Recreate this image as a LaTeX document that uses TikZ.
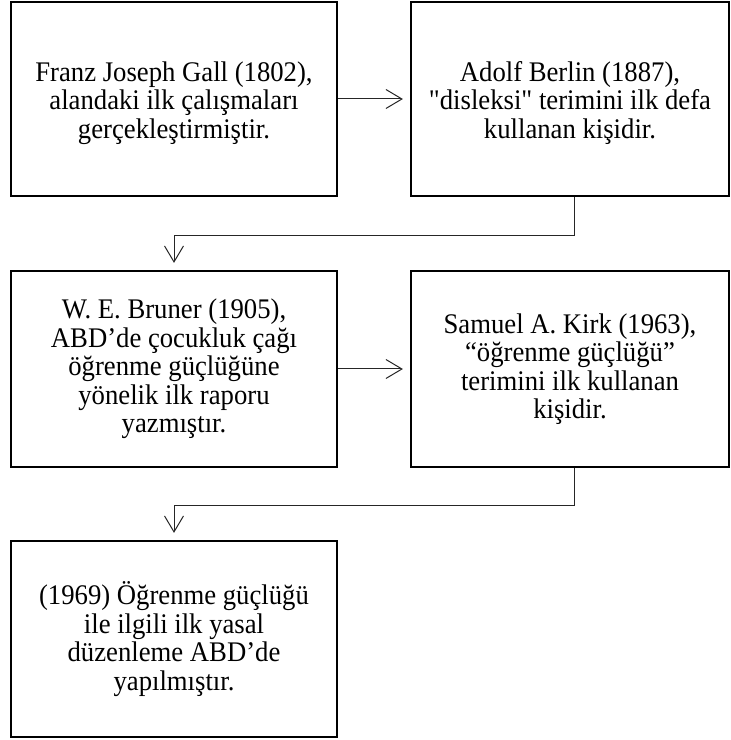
\documentclass[tikz,border=0pt]{standalone}
\usepackage{fontspec}
\setmainfont{Liberation Serif}[Ligatures=TeXOff, FakeStretch=0.94]
\usetikzlibrary{arrows.meta}
\begin{document}
\begin{tikzpicture}[x=1pt,y=1pt,
  box/.style={draw=black, line width=2.2pt, inner sep=0pt},
  wide/.style={minimum width=326pt},
  narrow/.style={minimum width=318pt},
  txt/.style={align=center, inner sep=0pt,
    font=\fontsize{28.4}{28.4}\selectfont},
  link/.style={draw=black!85, line width=1pt,
    -{Straight Barb[length=16pt,width=19pt,line width=1pt]}, shorten >=7pt}
]
\useasboundingbox (0,0) rectangle (731,740);

% boxes
\node[box, wide,   minimum height=194pt] (b1) at (174,641) {};
\node[box, narrow, minimum height=194pt] (b2) at (570,641) {};
\node[box, wide,   minimum height=196pt] (b3) at (174,371) {};
\node[box, narrow, minimum height=196pt] (b4) at (570,371) {};
\node[box, wide,   minimum height=196pt] (b5) at (174,101) {};

% texts
\node[txt] (t1) at ([yshift=-4pt]b1.center)
  {Franz Joseph Gall (1802),\\alandaki ilk çalışmaları\\gerçekleştirmiştir.};
\node[txt] (t2) at ([yshift=-4pt]b2.center)
  {Adolf Berlin (1887),\\"disleksi" terimini ilk defa\\kullanan kişidir.};
\node[txt] (t3) at (b3.center)
  {W. E. Bruner (1905),\\ABD’de çocukluk çağı\\öğrenme güçlüğüne\\yönelik ilk raporu\\yazmıştır.};
\node[txt] (t4) at (b4.center)
  {Samuel A. Kirk (1963),\\“öğrenme güçlüğü”\\terimini ilk kullanan\\kişidir.};
\node[txt] (t5) at (b5.center)
  {(1969) Öğrenme güçlüğü\\ile ilgili ilk yasal\\düzenleme ABD’de\\yapılmıştır.};

% connectors
\coordinate (k1) at ([xshift=4pt]b2.south);
\coordinate (k2) at ([xshift=4pt]b4.south);
\draw[link] (b1.east) -- (b2.west);
\draw[link] (k1) -- ++(0,-38) -| (b3.north);
\draw[link] (b3.east) -- (b4.west);
\draw[link] (k2) -- ++(0,-37) -| (b5.north);
\end{tikzpicture}
\end{document}
